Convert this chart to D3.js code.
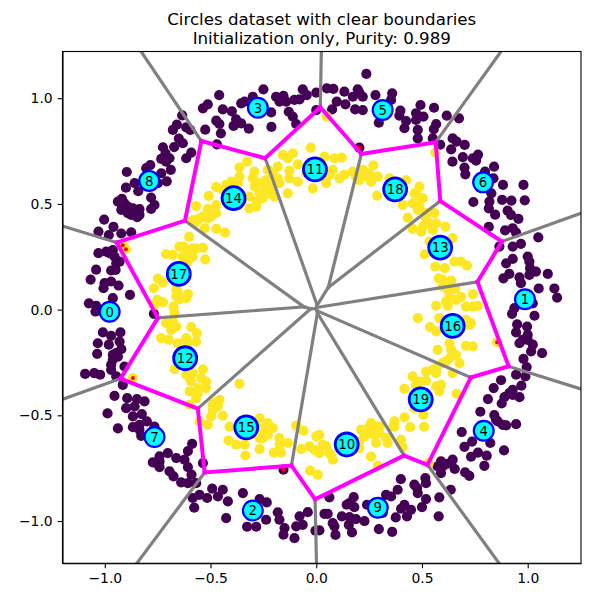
<!DOCTYPE html>
<html>
<head>
<meta charset="utf-8">
<script src="https://cdn.jsdelivr.net/npm/d3@7"></script>
<style>
  html, body { margin: 0; padding: 0; background: #fff; }
  text { font-family: "DejaVu Sans", sans-serif; fill: #000; }
</style>
</head>
<body>
<svg id="chart" width="600" height="600"></svg>
<script>
// class 0 points, one list per quadrant
var outerNW = [[-.25,1.042],[-.459,1.015],[-.3,1.007],[-.064,1.042],[-.045,1.015],[-.19,1.007],[-.155,1.011],[-.174,.984],[-.142,.984],[-.103,.992],[-.079,.995],[0,1.026],[-.355,.976],[-.339,.984],[-.513,.971],[-.536,.952],[-.442,.947],[-.399,.938],[-.213,.933],[-.13,.936],[-.111,.913],[-.095,.878],[0,.944],[-.379,.9],[-.473,.894],[-.458,.878],[-.355,.881],[-.391,.869],[-.319,.856],[-.212,.864],[-.525,.851],[-.451,.834],[-.634,.919],[-.659,.875],[-.615,.862],[-.678,.85],[-.596,.85],[-.65,.809],[-.631,.787],[-.672,.769],[-.47,.782],[-.725,.768],[-.591,.743],[-.615,.716],[-.713,.739],[-.694,.716],[-.733,.713],[-.688,.661],[-.785,.684],[-.804,.669],[-.896,.651],[-.733,.645],[-.707,.607],[-.859,.598],[-.9,.577],[-.842,.56],[-.749,.598],[-.781,.53],[-.919,.524],[-.938,.511],[-.907,.503],[-.765,.495],[-.781,.476],[-.836,.475],[-.867,.479],[-.922,.472],[-.891,.456],[-.847,.437],[-.875,.448],[-1.003,.426],[-.959,.391],[-1.03,.369],[-.981,.353],[-.922,.36],[-.875,.366],[-.962,.282],[-1.03,.267],[-.993,.274],[-.954,.251],[-.93,.227],[-.97,.185],[-.949,.188],[-1.041,.189],[-1.067,.142],[-.97,.133],[-1.001,.125],[-.935,.114],[-1.006,.101],[-.962,.054],[-.881,.07],[-1.075,.03],[-1.041,.018],[-.891,.487],[-.859,.456],[-.915,.495],[-.836,.448],[-.978,.267],[-.946,.219],[-.71,.7],[-.174,.992]];
var outerNE = [[.237,1.115],[.05,1.047],[.081,1.044],[.133,1.031],[.196,1.042],[.204,1.026],[.173,1.007],[.22,1.007],[.28,1.015],[.359,1.023],[.097,.984],[.138,.971],[.075,.947],[.184,.947],[.22,.944],[.296,.884],[.354,.992],[.493,.968],[.557,.955],[.398,.941],[.393,.918],[.472,.929],[.507,.913],[.617,.918],[.675,.905],[.425,.892],[.472,.897],[.417,.858],[.48,.85],[.567,.878],[.556,.854],[.48,.81],[.551,.81],[.645,.81],[.664,.795],[.702,.779],[.586,.78],[.638,.758],[.204,.766],[.765,.733],[.693,.721],[.74,.716],[.756,.705],[.644,.7],[.701,.672],[.705,.64],[.841,.676],[.798,.653],[.838,.621],[.883,.59],[.98,.59],[.828,.55],[.879,.519],[.923,.516],[.986,.517],[.743,.509],[.819,.511],[.816,.479],[.905,.468],[.846,.449],[.921,.448],[.956,.429],[.816,.391],[.893,.375],[.929,.385],[.945,.364],[1.05,.342],[.866,.298],[.929,.298],[.968,.311],[.898,.219],[.929,.24],[1,.251],[1.008,.227],[1.011,.196],[1.039,.18],[1.008,.164],[.885,.148],[.913,.169],[.961,.153],[.968,.125],[1.095,.169],[1.052,.1],[1.126,.1],[1.139,.057],[.937,.007],[1.024,.03]];
var outerSW = [[-1.044,-.009],[-.768,-.02],[-1.009,-.108],[-.926,-.108],[-.97,-.124],[-1.033,-.159],[-.981,-.166],[-.93,-.151],[-.922,-.187],[-.946,-.206],[-1.036,-.209],[-.962,-.237],[-.97,-.261],[-.907,-.269],[-1.093,-.304],[-1.05,-.3],[-1.022,-.308],[-.97,-.285],[-.946,-.316],[-.915,-.356],[-.954,-.408],[-.894,-.419],[-.848,-.423],[-.812,-.434],[-.899,-.466],[-.859,-.458],[-.987,-.491],[-.867,-.505],[-.825,-.494],[-.801,-.529],[-.938,-.562],[-.867,-.556],[-.836,-.568],[-.765,-.553],[-.828,-.597],[-.587,-.635],[-.607,-.669],[-.702,-.679],[-.741,-.694],[-.662,-.702],[-.623,-.71],[-.757,-.726],[-.773,-.723],[-.741,-.745],[-.607,-.745],[-.536,-.726],[-.694,-.765],[-.675,-.789],[-.59,-.781],[-.639,-.817],[-.607,-.821],[-.568,-.821],[-.492,-.847],[-.442,-.852],[-.552,-.876],[-.584,-.891],[-.516,-.891],[-.465,-.884],[-.418,-.907],[-.347,-.868],[-.268,-.896],[-.234,-.912],[-.577,-.937],[-.426,-.986],[-.182,-.959],[-.174,-.994],[-.237,-.994],[-.04,-.958],[-.079,-.978],[-.064,-1.018],[-.095,-1.025],[-.15,-1.033],[-.155,-1.065],[-.103,-1.081],[-.327,-1.027],[-.284,-1.027],[-.004,-1.046],[-.155,-.757],[-.962,-.214],[-.938,-.222],[-.836,-.545],[-.741,-.718]];
var outerSE = [[.926,-.02],[1.032,-.029],[.95,-.07],[.997,-.08],[.945,-.108],[1,-.119],[.961,-.159],[1.024,-.166],[1.068,-.206],[1.016,-.198],[.98,-.233],[.995,-.272],[.945,-.308],[.989,-.316],[.874,-.334],[.839,-.371],[.97,-.36],[.929,-.379],[.913,-.395],[.961,-.414],[.89,-.414],[.812,-.423],[.877,-.444],[.776,-.483],[.842,-.499],[.85,-.521],[.882,-.545],[.945,-.542],[.898,-.548],[.688,-.579],[.823,-.631],[.737,-.624],[.701,-.649],[.888,-.666],[.765,-.676],[.806,-.691],[.732,-.696],[.645,-.71],[.59,-.718],[.574,-.742],[.622,-.729],[.655,-.754],[.59,-.773],[.795,-.739],[.704,-.77],[.724,-.786],[.636,-.852],[.4,-.802],[.516,-.797],[.519,-.821],[.464,-.828],[.385,-.852],[.477,-.844],[.48,-.868],[.582,-.888],[.519,-.896],[.33,-.876],[.354,-.884],[.177,-.887],[.062,-.888],[.157,-.915],[.18,-.934],[.144,-.923],[.417,-.923],[.448,-.947],[.401,-.942],[.24,-.923],[.5,-.934],[.579,-.978],[.429,-.978],[.376,-.983],[.039,-.966],[.054,-.966],[.121,-.978],[.157,-.981],[.188,-.991],[.228,-1],[.078,-1.01],[.086,-1.025],[.154,-1.018],[.296,-1.038],[.359,-1.051],[.169,-1.054],[.091,-1.066],[.015,-1.044],[.314,-.962],[.929,-.403],[1,-.143],[.976,-.143],[.638,-.726],[.598,-.742],[.858,-.529]];

// class 1 points
var innerNW = [[-.026,.766],[-.158,.732],[-.111,.739],[-.134,.716],[-.182,.676],[-.327,.7],[-.363,.673],[-.292,.653],[-.127,.657],[-.087,.687],[-.182,.621],[-.087,.605],[-.134,.55],[-.016,.574],[-.363,.629],[-.402,.605],[-.473,.579],[-.426,.59],[-.3,.621],[-.237,.613],[-.292,.582],[-.237,.566],[-.268,.55],[-.197,.535],[-.221,.55],[-.508,.538],[-.284,.487],[-.316,.479],[-.281,.511],[-.316,.535],[-.568,.49],[-.513,.475],[-.473,.456],[-.552,.432],[-.584,.424],[-.513,.432],[-.576,.408],[-.527,.385],[-.473,.382],[-.431,.364],[-.601,.344],[-.628,.298],[-.536,.292],[-.584,.29],[-.71,.263],[-.678,.259],[-.631,.251],[-.584,.251],[-.525,.238],[-.607,.227],[-.749,.147],[-.725,.128],[-.768,.101],[-.655,.085],[-.607,.074],[-.662,.093],[-.615,.054],[-.647,.049],[-.752,.046],[-.725,.035],[-.765,.022],[-.675,.014],[-.915,.304],[-.9,.286],[-.268,.598],[-.205,.582],[-.253,.527],[-.174,.598],[-.371,.598],[-.442,.566],[-.473,.495],[-.536,.44],[-.497,.44],[-.56,.424],[-.615,.282],[-.591,.267],[-.568,.29],[-.607,.243],[-.647,.298],[-.662,.062],[-.048,.645],[-.205,.645],[-.229,.661],[-.127,.621]];
var innerNE = [[.05,.913],[.563,.743],[.039,.724],[.086,.716],[.121,.719],[.023,.684],[.078,.661],[.062,.637],[.047,.598],[.133,.637],[.11,.621],[.173,.653],[.22,.661],[.27,.683],[.236,.637],[.204,.613],[.259,.605],[.291,.629],[.346,.621],[.425,.613],[.288,.539],[.488,.582],[.464,.55],[.504,.527],[.456,.503],[.409,.495],[.433,.435],[.48,.472],[.559,.456],[.519,.424],[.567,.408],[.611,.393],[.456,.382],[.496,.369],[.645,.338],[.535,.322],[.513,.262],[.653,.227],[.685,.227],[.713,.208],[.563,.204],[.608,.196],[.579,.148],[.638,.137],[.598,.109],[.658,.098],[.74,.073],[.63,.062],[.685,.059],[.567,.019],[.622,.018],[.708,.014],[.764,.018],[.472,.55],[.488,.519],[.519,.456],[.535,.408],[.504,.393],[.551,.377],[.22,.629],[.188,.629],[.251,.645],[.488,.487],[.622,.093],[.598,.141],[.614,.038],[.661,.046],[.74,.014]];
var innerSW = [[-.67,-.017],[-.71,-.064],[-.662,-.08],[-.591,-.083],[-.565,-.111],[-.733,-.135],[-.697,-.143],[-.655,-.159],[-.568,-.151],[-.615,-.135],[-.67,-.282],[-.536,-.282],[-.615,-.308],[-.591,-.34],[-.521,-.34],[-.56,-.371],[-.599,-.387],[-.521,-.371],[-.568,-.419],[-.599,-.45],[-.867,-.324],[-.363,-.351],[-.458,-.427],[-.481,-.442],[-.489,-.474],[-.497,-.505],[-.442,-.502],[-.552,-.529],[-.513,-.545],[-.41,-.553],[-.268,-.513],[-.229,-.537],[-.205,-.56],[-.229,-.592],[-.415,-.619],[-.379,-.639],[-.268,-.608],[-.339,-.639],[-.174,-.608],[-.268,-.66],[-.174,-.639],[-.134,-.631],[-.095,-.549],[-.06,-.573],[0,-.6],[-.071,-.66],[-.032,-.647],[-.008,-.663],[-.201,-.676],[-.166,-.676],[-.335,-.69],[-.029,-.762],[.007,-.781],[-.237,-.553],[-.253,-.584],[-.284,-.545],[-.253,-.608],[-.489,-.45],[-.465,-.458],[-.56,-.395],[-.544,-.324],[-.584,-.3],[-.678,-.056],[-.686,-.096],[-.607,-.159],[-.599,-.324]];
var innerSE = [[.48,-.04],[.582,-.04],[.538,-.083],[.567,-.103],[.708,-.072],[.732,-.064],[.708,-.171],[.74,-.174],[.855,-.154],[.574,-.19],[.638,-.19],[.661,-.214],[.614,-.245],[.677,-.253],[.567,-.277],[.519,-.293],[.645,-.3],[.456,-.316],[.472,-.356],[.519,-.337],[.59,-.356],[.582,-.387],[.417,-.375],[.664,-.398],[.464,-.466],[.507,-.497],[.417,-.51],[.37,-.529],[.444,-.556],[.51,-.554],[.212,-.568],[.259,-.537],[.299,-.553],[.251,-.584],[.283,-.631],[.338,-.631],[.365,-.553],[.401,-.616],[.409,-.65],[.228,-.6],[.259,-.695],[.291,-.739],[.204,-.655],[.015,-.592],[.031,-.64],[.015,-.679],[.078,-.71],[.07,-.687],[.532,-.726],[.63,-.159],[.645,-.206],[.63,-.23],[.598,-.253],[.567,-.3],[.551,-.285],[.488,-.34],[.567,-.363],[.708,-.048],[.724,-.072],[.251,-.553],[.275,-.553],[.275,-.592],[.299,-.584],[.37,-.553],[.33,-.608],[.047,-.647],[.062,-.679],[.204,-.624]];

// points the clustering got wrong
var wrongPoints = [[-.915,.304],[-.9,.286],[.204,.766],[-.867,-.324],[-.155,-.757],[.855,-.154]];

// cluster centres, 0-9 belong to class 0 and 10-19 to class 1
var centerX = [-.977,.987,-.3,-.276,.792,.314,.789,-.765,-.79,.291,.144,-.006,-.62,.586,-.391,-.331,.645,-.65,.373,.494];
var centerY = [-.01,.049,-.95,.955,-.573,.944,.602,-.603,.609,-.937,-.638,.663,-.23,.293,.527,-.557,-.077,.169,.569,-.425];

var xTicks = [-1, -0.5, 0, 0.5, 1];
var yTicks = [-1, -0.5, 0, 0.5, 1];
var titleLines = ["Circles dataset with clear boundaries", "Initialization only, Purity: 0.989"];

var left = 62.5, right = 581, top_ = 51.5, bottom = 563.3;
var xScale = d3.scaleLinear().domain([-1.2, 1.252]).range([left, right]);
var yScale = d3.scaleLinear().domain([-1.2, 1.221]).range([bottom, top_]);

var svg = d3.select("#chart");

svg.append("clipPath").attr("id", "plot-area")
  .append("rect")
  .attr("x", left).attr("y", top_)
  .attr("width", right - left).attr("height", bottom - top_);

var plot = svg.append("g").attr("clip-path", "url(#plot-area)");

function drawPoints(list, colour) {
  plot.append("g").selectAll("circle")
    .data(list)
    .enter().append("circle")
    .attr("cx", function (d) { return xScale(d[0]); })
    .attr("cy", function (d) { return yScale(d[1]); })
    .attr("r", 5.1)
    .style("fill", colour);
}

drawPoints(outerNW.concat(outerNE, outerSW, outerSE), "#440154");
drawPoints(innerNW.concat(innerNE, innerSW, innerSE), "#fde725");

plot.append("g").selectAll("circle")
  .data(wrongPoints)
  .enter().append("circle")
  .attr("cx", function (d) { return xScale(d[0]); })
  .attr("cy", function (d) { return yScale(d[1]); })
  .attr("r", 2)
  .style("fill", "#ff0000");

// Voronoi edges: magenta between the two classes, gray inside one class
var centers = centerX.map(function (x, i) { return [xScale(x), yScale(centerY[i])]; });
var delaunay = d3.Delaunay.from(centers);
var voronoi = delaunay.voronoi([-3000, -3000, 3600, 3600]);

var edges = [];
centers.forEach(function (c, i) {
  var poly = voronoi.cellPolygon(i);
  for (var k = 0; k < poly.length - 1; k++) {
    var a = poly[k], b = poly[k + 1];
    var mx = (a[0] + b[0]) / 2, my = (a[1] + b[1]) / 2;
    // the other cell on this edge is the closest other centre to its middle
    var best = -1, bestDist = Infinity;
    centers.forEach(function (o, j) {
      if (j === i) return;
      var dist = Math.hypot(o[0] - mx, o[1] - my);
      if (dist < bestDist) { bestDist = dist; best = j; }
    });
    var onBorder = Math.abs(bestDist - Math.hypot(c[0] - mx, c[1] - my)) > 0.01;
    if (!onBorder && i < best) {
      edges.push({a: a, b: b, mixed: (i < 10) !== (best < 10)});
    }
  }
});

plot.append("g").selectAll("line")
  .data(edges.filter(function (e) { return !e.mixed; }).concat(edges.filter(function (e) { return e.mixed; })))
  .enter().append("line")
  .attr("x1", function (d) { return d.a[0]; })
  .attr("y1", function (d) { return d.a[1]; })
  .attr("x2", function (d) { return d.b[0]; })
  .attr("y2", function (d) { return d.b[1]; })
  .style("stroke", function (d) { return d.mixed ? "#ff00ff" : "#808080"; })
  .style("stroke-width", function (d) { return d.mixed ? 4 : 3.2; })
  .style("stroke-linecap", "square");

var marks = svg.append("g").selectAll("g")
  .data(centers)
  .enter().append("g")
  .attr("transform", function (d) { return "translate(" + d[0] + "," + d[1] + ")"; });

marks.append("circle")
  .attr("r", function (d, i) { return i < 10 ? 9.9 : 11.5; })
  .style("fill", "#00ffff")
  .style("stroke", "#0000ff")
  .style("stroke-width", function (d, i) { return i < 10 ? 2.2 : 2.8; });

marks.append("text")
  .attr("text-anchor", "middle")
  .attr("dy", "0.36em")
  .style("font-size", "13.3px")
  .text(function (d, i) { return i; });

// axes
function styleAxis(g) {
  g.selectAll("path").style("stroke", "#000").style("stroke-width", 1.1);
  g.selectAll("line").style("stroke", "#000").style("stroke-width", 1.1);
  g.selectAll("text").style("font-size", "13.9px").style("font-family", '"DejaVu Sans", sans-serif').style("fill", "#000");
}

var fmt = function (d) { return d3.format(".1f")(d).replace("-", "\u2212"); };

svg.append("g")
  .attr("transform", "translate(0," + bottom + ")")
  .call(d3.axisBottom(xScale).tickValues(xTicks).tickFormat(fmt).tickSize(4.9).tickPadding(4.9).tickSizeOuter(0))
  .call(styleAxis);

svg.append("g")
  .attr("transform", "translate(" + left + ",0)")
  .call(d3.axisLeft(yScale).tickValues(yTicks).tickFormat(fmt).tickSize(4.9).tickPadding(4.9).tickSizeOuter(0))
  .call(styleAxis);

svg.append("rect")
  .attr("x", left).attr("y", top_)
  .attr("width", right - left).attr("height", bottom - top_)
  .style("fill", "none").style("stroke", "#000").style("stroke-width", 1.1);

svg.append("g").selectAll("text")
  .data(titleLines)
  .enter().append("text")
  .attr("x", (left + right) / 2)
  .attr("y", function (d, i) { return 25 + i * 19.4; })
  .attr("text-anchor", "middle")
  .style("font-size", "16.67px")
  .text(function (d) { return d; });
</script>
</body>
</html>
